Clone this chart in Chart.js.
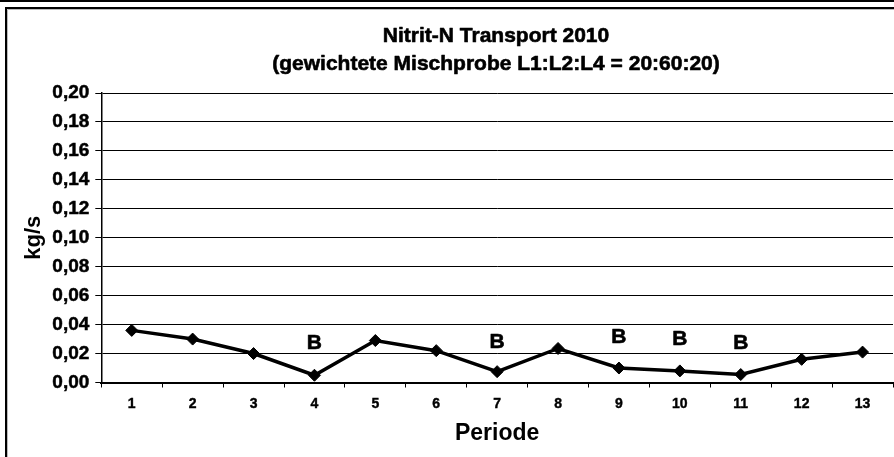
<!DOCTYPE html>
<html>
<head>
<meta charset="utf-8">
<script src="https://cdn.jsdelivr.net/npm/chart.js@4/dist/chart.umd.min.js"></script>
<style>
  html, body { margin: 0; padding: 0; background: #ffffff; overflow: hidden; width: 894px; height: 457px; }
  #wrap { position: absolute; left: 0; top: 0; width: 894px; height: 457px; overflow: hidden; }
  #c { position: absolute; left: 0; top: 0; }
</style>
</head>
<body>
<div id="wrap"><canvas id="c" width="900" height="457"></canvas></div>
<script>
// ---- data ----
const chartTitle = ['Nitrit-N Transport 2010', '(gewichtete Mischprobe L1:L2:L4 = 20:60:20)'];
const categories = ['1', '2', '3', '4', '5', '6', '7', '8', '9', '10', '11', '12', '13'];
const transportValues = [0.036, 0.030, 0.020, 0.005, 0.029, 0.022, 0.0075, 0.0235, 0.010, 0.008, 0.0055, 0.016, 0.021];
const markLabels = ['', '', '', 'B', '', '', 'B', '', 'B', 'B', 'B', '', ''];
const markLabelValues = [null, null, null, 0.027, null, null, 0.028, null, 0.031, 0.030, 0.027, null, null];
const yAxisTitle = 'kg/s';
const xAxisTitle = 'Periode';
const yMin = 0, yMax = 0.20, yStep = 0.02;

const FONT = '"Liberation Sans", Arial, Helvetica, sans-serif';

function heavyText(ctx, text, x, y, sw) {
  ctx.lineWidth = sw;
  ctx.strokeStyle = '#000000';
  ctx.lineJoin = 'round';
  ctx.strokeText(text, x, y);
  ctx.fillText(text, x, y);
}

const decorPlugin = {
  id: 'decor',
  beforeDraw(chart) {
    const ctx = chart.ctx;
    ctx.save();
    ctx.fillStyle = '#ffffff';
    ctx.fillRect(0, 0, chart.width, chart.height);
    ctx.fillStyle = '#000000';
    ctx.fillRect(0, 0, chart.width, 2);
    ctx.strokeStyle = '#000000';
    ctx.lineWidth = 2;
    ctx.beginPath();
    ctx.moveTo(6, chart.height + 5);
    ctx.lineTo(6, 8);
    ctx.lineTo(chart.width + 5, 8);
    ctx.stroke();
    ctx.strokeStyle = '#bbbbbb';
    ctx.lineWidth = 1;
    ctx.beginPath();
    ctx.moveTo(7.5, chart.height + 5);
    ctx.lineTo(7.5, 9.5);
    ctx.lineTo(chart.width + 5, 9.5);
    ctx.stroke();
    ctx.fillStyle = '#000000';
    ctx.font = 'bold 21px ' + FONT;
    ctx.textAlign = 'center';
    ctx.textBaseline = 'alphabetic';
    const cx = 496;
    heavyText(ctx, chartTitle[0], cx, 42, 0.6);
    heavyText(ctx, chartTitle[1], cx, 70, 0.6);
    ctx.restore();
  },
  afterDatasetsDraw(chart) {
    const ctx = chart.ctx;
    const xs = chart.scales.x, ys = chart.scales.y;
    ctx.save();
    ctx.fillStyle = '#000000';
    ctx.font = 'bold 21px ' + FONT;
    ctx.textAlign = 'center';
    ctx.textBaseline = 'middle';
    markLabels.forEach((t, i) => {
      if (!t || markLabelValues[i] == null) return;
      heavyText(ctx, t, xs.getPixelForValue(i), ys.getPixelForValue(markLabelValues[i]), 0.6);
    });
    ctx.restore();
  }
};

new Chart(document.getElementById('c'), {
  type: 'line',
  data: {
    labels: categories,
    datasets: [{
      data: transportValues,
      borderColor: '#000000',
      backgroundColor: '#000000',
      borderWidth: 3.5,
      tension: 0,
      pointStyle: 'rectRot',
      pointRadius: 6,
      pointBackgroundColor: '#000000',
      pointBorderColor: '#000000',
      pointBorderWidth: 1,
      fill: false
    }]
  },
  options: {
    responsive: false,
    animation: false,
    devicePixelRatio: 1,
    layout: { padding: { top: 93, left: 0, right: 0, bottom: 0 } },
    plugins: {
      legend: { display: false },
      title: { display: false },
      tooltip: { enabled: false }
    },
    scales: {
      x: {
        type: 'category',
        offset: true,
        grid: { offset: true, drawOnChartArea: false, drawTicks: true, tickLength: 5, color: '#000000', lineWidth: 1 },
        border: { display: true, color: '#000000', width: 2 },
        ticks: { color: '#000000', font: { family: FONT, size: 14, weight: 'bold' }, textStrokeColor: '#000000', textStrokeWidth: 0.4, padding: 8, maxRotation: 0, autoSkip: false },
        title: { display: true, text: xAxisTitle, color: '#000000', font: { family: FONT, size: 23, weight: 'bold' }, padding: { top: 0, bottom: 10 } },
        afterFit(scale) { scale.height = 74.5; }
      },
      y: {
        min: yMin,
        max: yMax,
        grid: { color: '#000000', lineWidth: 1, drawTicks: true, tickLength: 6 },
        border: { display: true, color: '#000000', width: 1.5 },
        ticks: {
          stepSize: yStep,
          color: '#000000',
          font: { family: FONT, size: 19, weight: 'bold' },
          textStrokeColor: '#000000',
          textStrokeWidth: 0.5,
          padding: 6,
          callback: (v) => Number(v).toFixed(2).replace('.', ',')
        },
        title: { display: true, text: yAxisTitle, color: '#000000', font: { family: FONT, size: 22, weight: 'bold' }, padding: { top: 21, bottom: 0 } },
        afterFit(scale) { scale.width = 101.3; }
      }
    }
  },
  plugins: [decorPlugin]
});
</script>
</body>
</html>
